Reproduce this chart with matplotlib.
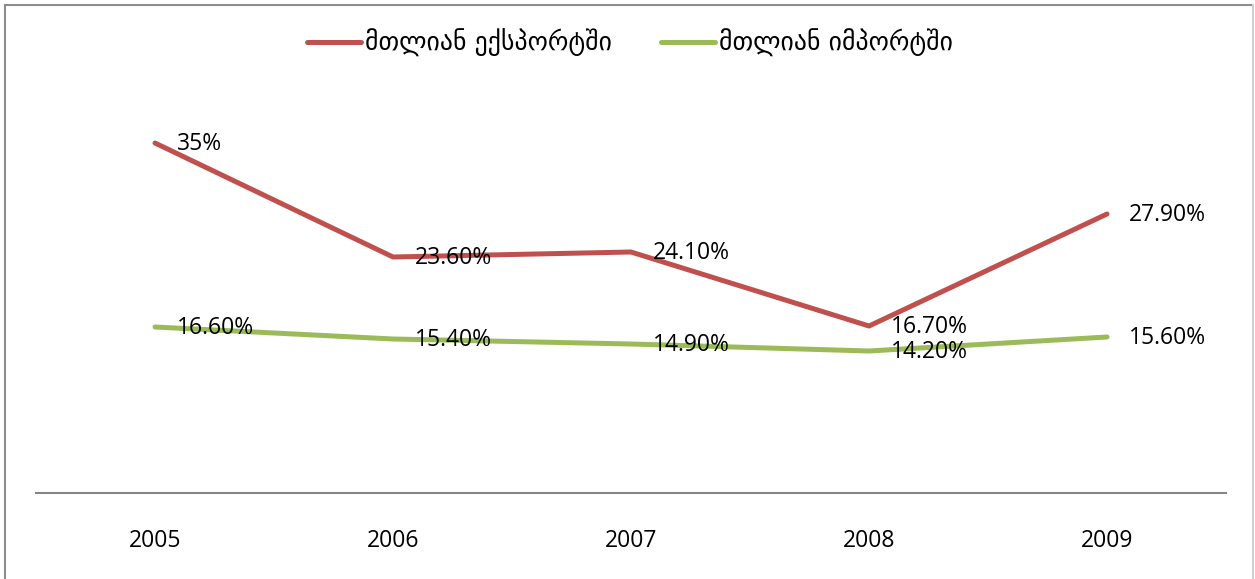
import matplotlib
matplotlib.use('Agg')
import matplotlib.pyplot as plt
from matplotlib.lines import Line2D

years = ['2005', '2006', '2007', '2008', '2009']
export_share = [35.0, 23.6, 24.1, 16.7, 27.9]
import_share = [16.6, 15.4, 14.9, 14.2, 15.6]
export_labels = ['35%', '23.60%', '24.10%', '16.70%', '27.90%']
import_labels = ['16.60%', '15.40%', '14.90%', '14.20%', '15.60%']
series_names = ['მთლიან ექსპორტში', 'მთლიან იმპორტში']

W, H = 1255, 579
fig = plt.figure(figsize=(W / 100, H / 100), dpi=100)
ax = fig.add_axes([36 / W, 86 / H, 1190 / W, 400 / H])

x = range(len(years))
ax.plot(x, export_share, color='#C0504D', lw=3.6, solid_capstyle='round', label=series_names[0])
ax.plot(x, import_share, color='#9BBB59', lw=3.6, solid_capstyle='round', label=series_names[1])

# data labels to the right of each point
for xi, v, t in zip(x, export_share, export_labels):
    ax.annotate(t, (xi, v), xytext=(16, -1), textcoords='offset points',
                ha='left', va='center', fontsize=16.5, family='Open Sans')
for xi, v, t in zip(x, import_share, import_labels):
    ax.annotate(t, (xi, v), xytext=(16, -1), textcoords='offset points',
                ha='left', va='center', fontsize=16.5, family='Open Sans')

ax.set_xlim(-0.5, len(years) - 0.5)
ax.set_ylim(0, 40)
ax.set_xticks(list(x))
ax.set_xticklabels(years, fontsize=16.5, family='Open Sans')
ax.tick_params(axis='x', length=0, pad=26)
ax.set_yticks([])
for s in ['left', 'right', 'top']:
    ax.spines[s].set_visible(False)
ax.spines['bottom'].set_color('#868686')
ax.spines['bottom'].set_linewidth(1.5)

leg = fig.legend(loc='center', bbox_to_anchor=(0.502, 1 - 43 / H), ncol=2, frameon=False,
                 prop={'family': 'DejaVu Sans', 'size': 18.5}, handlelength=2.1,
                 handletextpad=0.15, columnspacing=1.9)

# outer chart frame
fig.add_artist(Line2D([5 / W, 5 / W], [0, 1 - 5 / H], color='#8c8c8c', lw=1.5))
fig.add_artist(Line2D([5 / W, 1253 / W], [1 - 5 / H, 1 - 5 / H], color='#8c8c8c', lw=1.5))
fig.add_artist(Line2D([1253 / W, 1253 / W], [0, 1 - 5 / H], color='#d0d0d0', lw=1.5))

fig.savefig('out.png', dpi=100)
